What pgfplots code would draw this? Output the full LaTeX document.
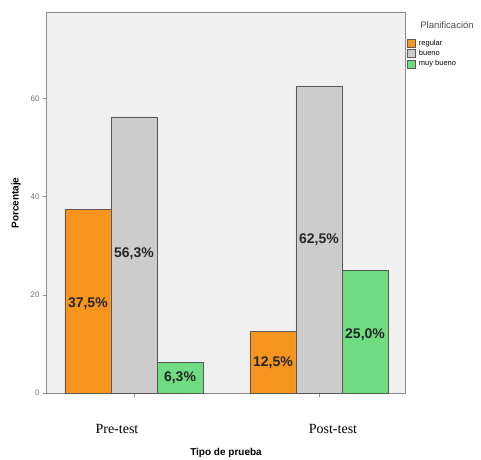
\documentclass[border=0pt]{standalone}
\usepackage{pgfplots}
\pgfplotsset{compat=1.18}
\usepackage{fontspec}
\setmainfont{Liberation Sans}
\newfontfamily\seriffont{Liberation Serif}
\definecolor{cOr}{HTML}{F7941E}
\definecolor{cGr}{HTML}{CCCCCC}
\definecolor{cGn}{HTML}{6FDC82}
\definecolor{bgc}{HTML}{F0F0F0}
\definecolor{frame}{HTML}{8C8C8C}
\begin{document}
\begin{tikzpicture}[x=1pt,y=1pt]
\useasboundingbox (-47,-66) rectangle (434,393);
\begin{axis}[
  at={(0,0)}, anchor=south west,
  scale only axis, width=358pt, height=380pt,
  xmin=-0.47, xmax=1.465, ymin=0, ymax=77.5,
  axis background/.style={fill=bgc},
  axis line style={frame, line width=1pt},
  xtick={0,1},
  xticklabels={Pre-test\hspace*{34pt}, \hspace*{28pt}Post-test},
  xticklabel style={font=\seriffont\fontsize{14}{16}\selectfont, yshift=-24pt},
  ytick={0,20,40,60},
  yticklabel style={font=\fontsize{8}{9}\selectfont, text=black!55},
  /pgf/number format/assume math mode=true,
  tick align=outside, tick pos=left,
  major tick length=4pt,
  tick style={frame, line width=0.8pt},
  xlabel={Tipo de prueba},
  ylabel={Porcentaje},
  xlabel style={font=\bfseries\fontsize{10}{12}\selectfont, yshift=-8pt},
  ylabel style={font=\bfseries\fontsize{10}{12}\selectfont, yshift=3pt},
  legend style={at={(1.006,0.933)}, anchor=north west, draw=none, fill=none,
    font=\fontsize{7.5}{8.5}\selectfont, row sep=1.5pt, inner sep=0pt,
    nodes={inner sep=1pt}},
  legend cell align=left,
  legend image code/.code={\draw[#1] (0pt,-4pt) rectangle (8pt,4pt);},
  clip=false,
]
\addplot[ybar, bar width=46pt, bar shift=0pt, fill=cOr, draw=black!65, line width=0.6pt]
  coordinates {(-0.249,37.5) (0.751,12.5)};
\addlegendentry{\hspace*{2pt}regular}
\addplot[ybar, bar width=46pt, bar shift=0pt, fill=cGr, draw=black!65, line width=0.6pt]
  coordinates {(0,56.3) (1,62.5)};
\addlegendentry{\hspace*{2pt}bueno}
\addplot[ybar, bar width=46pt, bar shift=0pt, fill=cGn, draw=black!65, line width=0.6pt]
  coordinates {(0.249,6.3) (1.249,25.0)};
\addlegendentry{\hspace*{2pt}muy bueno}
\addplot[draw=none, forget plot, nodes near coords, point meta=explicit symbolic,
  nodes near coords style={anchor=center, font=\bfseries\fontsize{14}{15}\selectfont, text=black!85}]
  coordinates {(-0.249,18.2)[37,5\%] (0,28.5)[56,3\%] (0.249,3.15)[6,3\%]
               (0.751,6.25)[12,5\%] (1,31.25)[62,5\%] (1.249,11.8)[25,0\%]};
\node[anchor=west, font=\fontsize{9.5}{11}\selectfont, text=black!70] at (rel axis cs:1.033,0.968) {Planificación};
\end{axis}
\end{tikzpicture}
\end{document}
